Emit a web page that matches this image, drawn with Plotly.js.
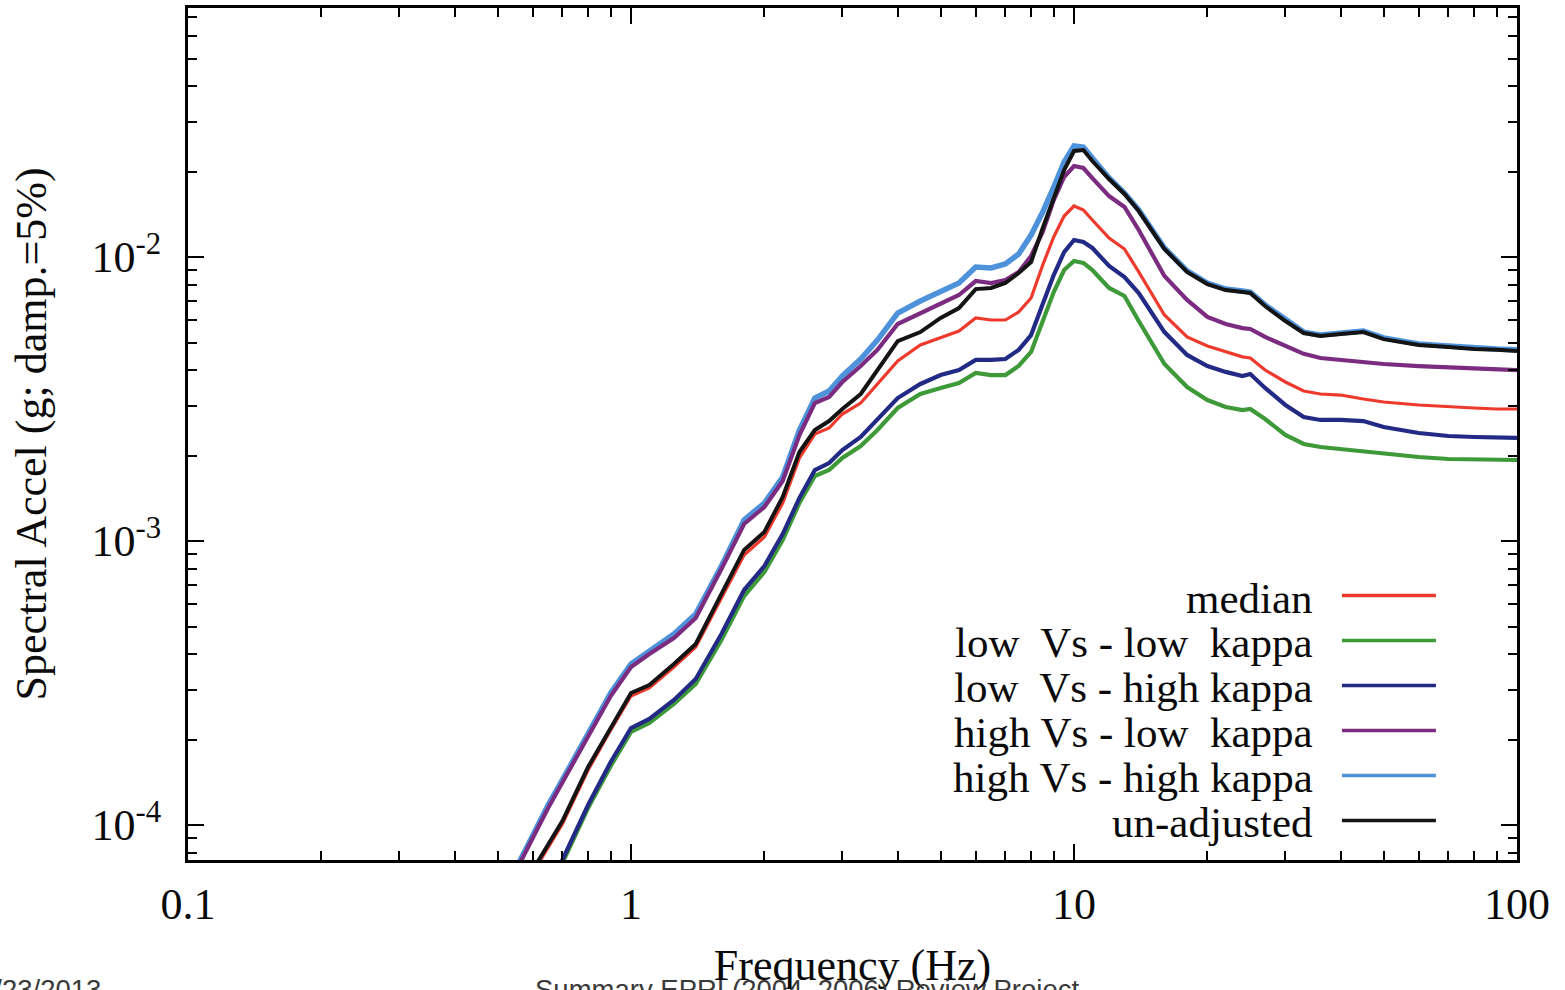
<!DOCTYPE html>
<html>
<head>
<meta charset="utf-8">
<script src="https://cdn.plot.ly/plotly-3.0.1.min.js"></script>
<style>
  html, body { margin: 0; padding: 0; background: #ffffff; }
  #chart { width: 1565px; height: 990px; }
</style>
</head>
<body>
<div id="chart"></div>
<script>
// ---- data ----
const frequencyHz = [0.5, 0.55, 0.6, 0.65, 0.7, 0.8, 0.9, 1.0, 1.1, 1.25,
  1.4, 1.6, 1.8, 2.0, 2.2, 2.4, 2.6, 2.8, 3.0, 3.3,
  3.6, 4.0, 4.5, 5.0, 5.5, 6.0, 6.5, 7.0, 7.5, 8.0,
  8.5, 9.0, 9.5, 10, 10.5, 11, 12, 13, 14, 16,
  18, 20, 22, 24, 25, 27, 30, 33, 36, 40,
  45, 50, 60, 70, 80, 90, 100];

const median = [4.03e-5, 5.36e-5, 6.78e-5, 8.30e-5, 1.008e-4, 1.562e-4, 2.160e-4, 2.846e-4, 3.037e-4, 3.600e-4,
  4.235e-4, 6.30e-4, 8.93e-4, 1.033e-3, 1.361e-3, 1.961e-3, 2.381e-3, 2.500e-3, 2.800e-3, 3.061e-3,
  3.572e-3, 4.303e-3, 4.90e-3, 5.19e-3, 5.49e-3, 6.10e-3, 6.00e-3, 6.00e-3, 6.40e-3, 7.17e-3,
  9.37e-3, 1.176e-2, 1.394e-2, 1.512e-2, 1.464e-2, 1.350e-2, 1.166e-2, 1.067e-2, 8.86e-3, 6.25e-3,
  5.23e-3, 4.86e-3, 4.63e-3, 4.45e-3, 4.41e-3, 4.00e-3, 3.630e-3, 3.375e-3, 3.293e-3, 3.266e-3,
  3.162e-3, 3.087e-3, 3.013e-3, 2.964e-3, 2.940e-3, 2.916e-3, 2.916e-3];

const lowVsLowKappa = [2.89e-5, 3.84e-5, 4.82e-5, 6.00e-5, 7.35e-5, 1.148e-4, 1.613e-4, 2.126e-4, 2.287e-4, 2.668e-4,
  3.137e-4, 4.481e-4, 6.40e-4, 7.78e-4, 1.008e-3, 1.361e-3, 1.694e-3, 1.778e-3, 1.961e-3, 2.160e-3,
  2.459e-3, 2.940e-3, 3.293e-3, 3.459e-3, 3.600e-3, 3.904e-3, 3.841e-3, 3.841e-3, 4.133e-3, 4.63e-3,
  5.90e-3, 7.53e-3, 9.00e-3, 9.68e-3, 9.53e-3, 9.00e-3, 7.78e-3, 7.29e-3, 5.95e-3, 4.20e-3,
  3.486e-3, 3.137e-3, 2.964e-3, 2.892e-3, 2.916e-3, 2.689e-3, 2.362e-3, 2.196e-3, 2.143e-3, 2.109e-3,
  2.075e-3, 2.025e-3, 1.976e-3, 1.944e-3, 1.944e-3, 1.929e-3, 1.929e-3];

const lowVsHighKappa = [2.96e-5, 3.94e-5, 4.94e-5, 6.15e-5, 7.53e-5, 1.176e-4, 1.667e-4, 2.196e-4, 2.362e-4, 2.755e-4,
  3.267e-4, 4.705e-4, 6.72e-4, 8.166e-4, 1.058e-3, 1.417e-3, 1.778e-3, 1.882e-3, 2.091e-3, 2.324e-3,
  2.668e-3, 3.187e-3, 3.572e-3, 3.841e-3, 4.00e-3, 4.34e-3, 4.34e-3, 4.373e-3, 4.71e-3, 5.31e-3,
  6.83e-3, 8.64e-3, 1.041e-2, 1.148e-2, 1.129e-2, 1.076e-2, 9.30e-3, 8.50e-3, 7.47e-3, 5.44e-3,
  4.52e-3, 4.13e-3, 3.94e-3, 3.811e-3, 3.873e-3, 3.459e-3, 3.013e-3, 2.732e-3, 2.668e-3, 2.668e-3,
  2.645e-3, 2.520e-3, 2.401e-3, 2.343e-3, 2.324e-3, 2.306e-3, 2.306e-3];

const highVsLowKappa = [5.14e-5, 6.94e-5, 9.00e-5, 1.148e-4, 1.417e-4, 2.058e-4, 2.846e-4, 3.600e-4, 4.000e-4, 4.555e-4,
  5.356e-4, 7.97e-4, 1.148e-3, 1.317e-3, 1.626e-3, 2.362e-3, 3.061e-3, 3.214e-3, 3.630e-3, 4.133e-3,
  4.71e-3, 5.81e-3, 6.35e-3, 6.89e-3, 7.35e-3, 8.23e-3, 8.10e-3, 8.30e-3, 8.86e-3, 1.008e-2,
  1.225e-2, 1.587e-2, 1.913e-2, 2.091e-2, 2.058e-2, 1.897e-2, 1.639e-2, 1.500e-2, 1.245e-2, 8.57e-3,
  7.06e-3, 6.15e-3, 5.81e-3, 5.62e-3, 5.58e-3, 5.23e-3, 4.86e-3, 4.56e-3, 4.41e-3, 4.34e-3,
  4.27e-3, 4.20e-3, 4.13e-3, 4.10e-3, 4.07e-3, 4.03e-3, 4.00e-3];

const highVsHighKappa = [5.23e-5, 7.06e-5, 9.15e-5, 1.176e-4, 1.441e-4, 2.108e-4, 2.916e-4, 3.689e-4, 4.100e-4, 4.705e-4,
  5.534e-4, 8.166e-4, 1.186e-3, 1.361e-3, 1.680e-3, 2.459e-3, 3.187e-3, 3.375e-3, 3.811e-3, 4.373e-3,
  5.101e-3, 6.35e-3, 7.00e-3, 7.59e-3, 8.10e-3, 9.22e-3, 9.15e-3, 9.45e-3, 1.025e-2, 1.195e-2,
  1.441e-2, 1.764e-2, 2.160e-2, 2.459e-2, 2.439e-2, 2.232e-2, 1.897e-2, 1.680e-2, 1.464e-2, 1.076e-2,
  8.93e-3, 8.10e-3, 7.71e-3, 7.59e-3, 7.53e-3, 6.78e-3, 6.00e-3, 5.44e-3, 5.31e-3, 5.40e-3,
  5.49e-3, 5.19e-3, 4.94e-3, 4.86e-3, 4.78e-3, 4.74e-3, 4.71e-3];

const unAdjusted = [4.10e-5, 5.53e-5, 6.94e-5, 8.50e-5, 1.033e-4, 1.600e-4, 2.214e-4, 2.916e-4, 3.112e-4, 3.689e-4,
  4.338e-4, 6.51e-4, 9.30e-4, 1.076e-3, 1.429e-3, 2.058e-3, 2.459e-3, 2.645e-3, 2.916e-3, 3.293e-3,
  4.000e-3, 5.06e-3, 5.44e-3, 6.10e-3, 6.61e-3, 7.71e-3, 7.78e-3, 8.10e-3, 8.78e-3, 9.60e-3,
  1.265e-2, 1.613e-2, 2.024e-2, 2.362e-2, 2.381e-2, 2.178e-2, 1.882e-2, 1.667e-2, 1.452e-2, 1.067e-2,
  8.86e-3, 8.03e-3, 7.65e-3, 7.53e-3, 7.47e-3, 6.72e-3, 5.95e-3, 5.40e-3, 5.27e-3, 5.36e-3,
  5.44e-3, 5.14e-3, 4.90e-3, 4.82e-3, 4.74e-3, 4.71e-3, 4.67e-3];

const seriesNames = ["median", "low\u00a0 Vs - low\u00a0 kappa", "low\u00a0 Vs - high kappa",
  "high Vs - low\u00a0 kappa", "high Vs - high kappa", "un-adjusted"];
const seriesValues = [median, lowVsLowKappa, lowVsHighKappa, highVsLowKappa, highVsHighKappa, unAdjusted];
const seriesColors = ["#ee3a2c", "#3e9a38", "#232a86", "#7b2c80", "#4d92da", "#141414"];
const seriesWidths = [3.2, 4.2, 4.2, 4.2, 5.5, 4];
const drawOrder = [1, 2, 0, 4, 3, 5];

const xTickVals = [0.1, 1, 10, 100];
const xTickText = ["0.1", "1", "10", "100"];
const yTickVals = [1e-4, 1e-3, 1e-2];
const yTickText = ["10<sup>-4</sup>", "10<sup>-3</sup>", "10<sup>-2</sup>"];
const minorMultipliers = [2, 3, 4, 5, 6, 7, 8, 9];

const xMinor = [];
[0.1, 1, 10].forEach(d => minorMultipliers.forEach(m => xMinor.push(d * m)));
const yMinor = [];
[1e-5, 1e-4, 1e-3, 1e-2].forEach(d => minorMultipliers.forEach(m => yMinor.push(d * m)));

const serif = "Liberation Serif, Times New Roman, serif";
const ink = "#0a0a0a";

const traces = drawOrder.map(i => ({
  type: "scatter",
  mode: "lines",
  x: frequencyHz,
  y: seriesValues[i],
  name: seriesNames[i],
  line: { color: seriesColors[i], width: seriesWidths[i] },
  showlegend: false,
  hoverinfo: "skip"
}));

// custom legend: text right-aligned, line sample on the right
const legendTextRight = 0.848;
const legendLineX0 = 0.8683, legendLineX1 = 0.939;
const legendTop = 0.3075, legendStep = 0.0528;
const annotations = [];
const shapes = [];
seriesNames.forEach((nm, i) => {
  const yy = legendTop - i * legendStep;
  annotations.push({
    xref: "paper", yref: "paper", x: legendTextRight, y: yy,
    xanchor: "right", yanchor: "middle", showarrow: false,
    text: nm, font: { family: serif, size: 43, color: ink }
  });
  shapes.push({
    type: "line", xref: "paper", yref: "paper",
    x0: legendLineX0, x1: legendLineX1, y0: yy + 0.003, y1: yy + 0.003,
    line: { color: seriesColors[i], width: 3.5 }
  });
});

// slide footer text (cut off at the bottom edge of the picture)
annotations.push({
  xref: "paper", yref: "paper", x: 0.2597, y: -0.1315,
  xanchor: "left", yanchor: "top", showarrow: false,
  text: "Summary EPRI (2004, 2006) Review Project",
  font: { family: "Liberation Sans, Arial, sans-serif", size: 27.5, color: "#3a3a3a" }
});
annotations.push({
  xref: "paper", yref: "paper", x: -0.064, y: -0.1315,
  xanchor: "right", yanchor: "top", showarrow: false,
  text: "1/23/2013",
  font: { family: "Liberation Sans, Arial, sans-serif", size: 27.5, color: "#3a3a3a" }
});

const layout = {
  width: 1565, height: 990,
  margin: { l: 188, r: 48, t: 8, b: 130 },
  paper_bgcolor: "#ffffff", plot_bgcolor: "#ffffff",
  showlegend: false,
  xaxis: {
    type: "log", range: [-1, 2], autorange: false,
    tickmode: "array", tickvals: xTickVals, ticktext: xTickText,
    ticks: "inside", ticklen: 16, tickwidth: 2, tickcolor: "#000",
    ticklabelstandoff: 3,
    showline: true, linewidth: 3, linecolor: "#000", mirror: "ticks",
    showgrid: false, zeroline: false,
    minor: { tickmode: "array", tickvals: xMinor, ticks: "inside", ticklen: 9, tickwidth: 2, tickcolor: "#000", showgrid: false },
    tickfont: { family: serif, size: 44, color: ink },
    title: { text: "Frequency (Hz)", font: { family: serif, size: 44, color: ink }, standoff: 30 }
  },
  yaxis: {
    type: "log", range: [-4.1232, -1.1232], autorange: false,
    tickmode: "array", tickvals: yTickVals, ticktext: yTickText,
    ticks: "inside", ticklen: 16, tickwidth: 2, tickcolor: "#000",
    ticklabelstandoff: 15,
    showline: true, linewidth: 3, linecolor: "#000", mirror: "ticks",
    showgrid: false, zeroline: false,
    minor: { tickmode: "array", tickvals: yMinor, ticks: "inside", ticklen: 9, tickwidth: 2, tickcolor: "#000", showgrid: false },
    tickfont: { family: serif, size: 44, color: ink },
    title: { text: "Spectral Accel (g; damp.=5%)", font: { family: serif, size: 44, color: ink }, standoff: 32 }
  },
  annotations: annotations,
  shapes: shapes
};

Plotly.newPlot("chart", traces, layout, { displayModeBar: false, staticPlot: true });
</script>
</body>
</html>
